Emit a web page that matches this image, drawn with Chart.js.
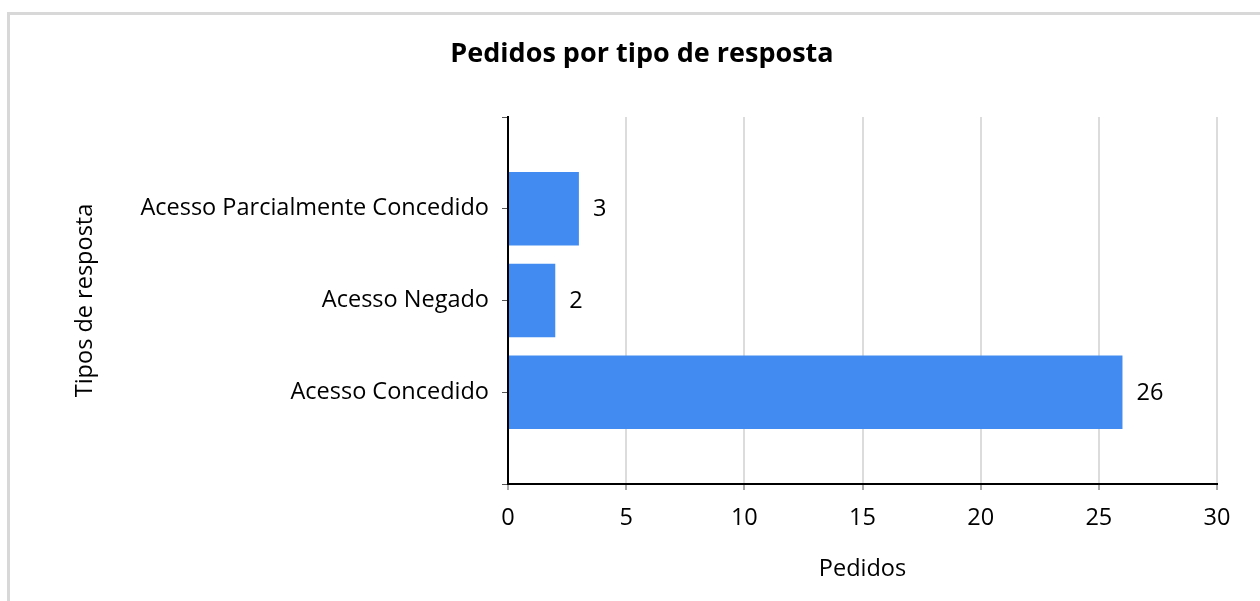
<!DOCTYPE html>
<html>
<head>
<meta charset="utf-8">
<script src="https://cdn.jsdelivr.net/npm/chart.js@4/dist/chart.umd.min.js"></script>
<style>
  html, body { margin: 0; padding: 0; background: #fff; overflow: hidden; }
  #frame { position: absolute; left: 7px; top: 12px; width: 1400px; height: 800px;
           border-top: 3px solid #d8d8d8; border-left: 3px solid #d8d8d8; }
  #wrap { position: absolute; left: 0; top: 0; width: 1260px; height: 601px; }
</style>
</head>
<body>
<div id="frame"></div>
<div id="wrap"><canvas id="respChart" width="1260" height="601"></canvas></div>
<script>
// categories (empty slots at both ends keep the axis padding)
const categories = ['', 'Acesso Parcialmente Concedido', 'Acesso Negado', 'Acesso Concedido', ''];
const pedidos = [null, 3, 2, 26, null];
const xTicks = [0, 5, 10, 15, 20, 25, 30];

const FONT = "'Open Sans', sans-serif";
const FS = 23.5;

// value labels right of each bar
const barLabels = {
    id: 'barLabels',
    afterDatasetsDraw(chart) {
        const ctx = chart.ctx;
        const meta = chart.getDatasetMeta(0);
        ctx.save();
        ctx.font = FS + 'px ' + FONT;
        ctx.fillStyle = '#000';
        ctx.textBaseline = 'middle';
        ctx.textAlign = 'left';
        meta.data.forEach((bar, i) => {
            const v = pedidos[i];
            if (v === null) return;
            ctx.fillText(String(v), bar.x + 14, bar.y + 1);
        });
        ctx.restore();
    }
};

const data = {
    labels: categories,
    datasets: [{
        label: 'Pedidos',
        data: pedidos,
        backgroundColor: 'rgb(66,139,240)',
        borderWidth: 0,
        barPercentage: 0.8,
        categoryPercentage: 1
    }]
};

const config = {
    type: 'bar',
    data,
    options: {
        indexAxis: 'y',
        responsive: false,
        animation: false,
        layout: { padding: { left: 67, right: 43, top: 24, bottom: 14 } },
        plugins: {
            legend: { display: false },
            tooltip: { enabled: false },
            title: {
                display: true,
                text: 'Pedidos por tipo de resposta',
                color: '#000',
                font: { family: FONT, size: 27, weight: 'bold' },
                padding: { top: 14, bottom: 46.6 }
            }
        },
        scales: {
            x: {
                type: 'linear',
                min: 0,
                max: 30,
                afterBuildTicks: s => { s.ticks = xTicks.map(v => ({ value: v })); },
                afterFit: s => { s.height = 601 - 14 - 484; },
                grid: { color: '#dcdcdc', lineWidth: 2, tickColor: '#555', tickLength: 6, tickWidth: 1 },
                border: { color: '#000', width: 2 },
                ticks: { color: '#000', font: { family: FONT, size: FS }, padding: 14 },
                title: { display: true, text: 'Pedidos', color: '#000', font: { family: FONT, size: FS }, padding: { top: 14 } }
            },
            y: {
                type: 'category',
                offset: false,
                afterFit: s => { s.width = 508 - 67; },
                grid: { offset: false, drawOnChartArea: false, tickColor: '#555', tickLength: 6, tickWidth: 1 },
                border: { color: '#000', width: 2 },
                ticks: { color: '#000', font: { family: FONT, size: FS }, padding: 13, autoSkip: false },
                title: { display: true, text: 'Tipos de resposta', color: '#000', font: { family: FONT, size: FS } }
            }
        }
    },
    plugins: [barLabels]
};

const Chart1 = new Chart(document.getElementById('respChart'), config);
</script>
</body>
</html>
